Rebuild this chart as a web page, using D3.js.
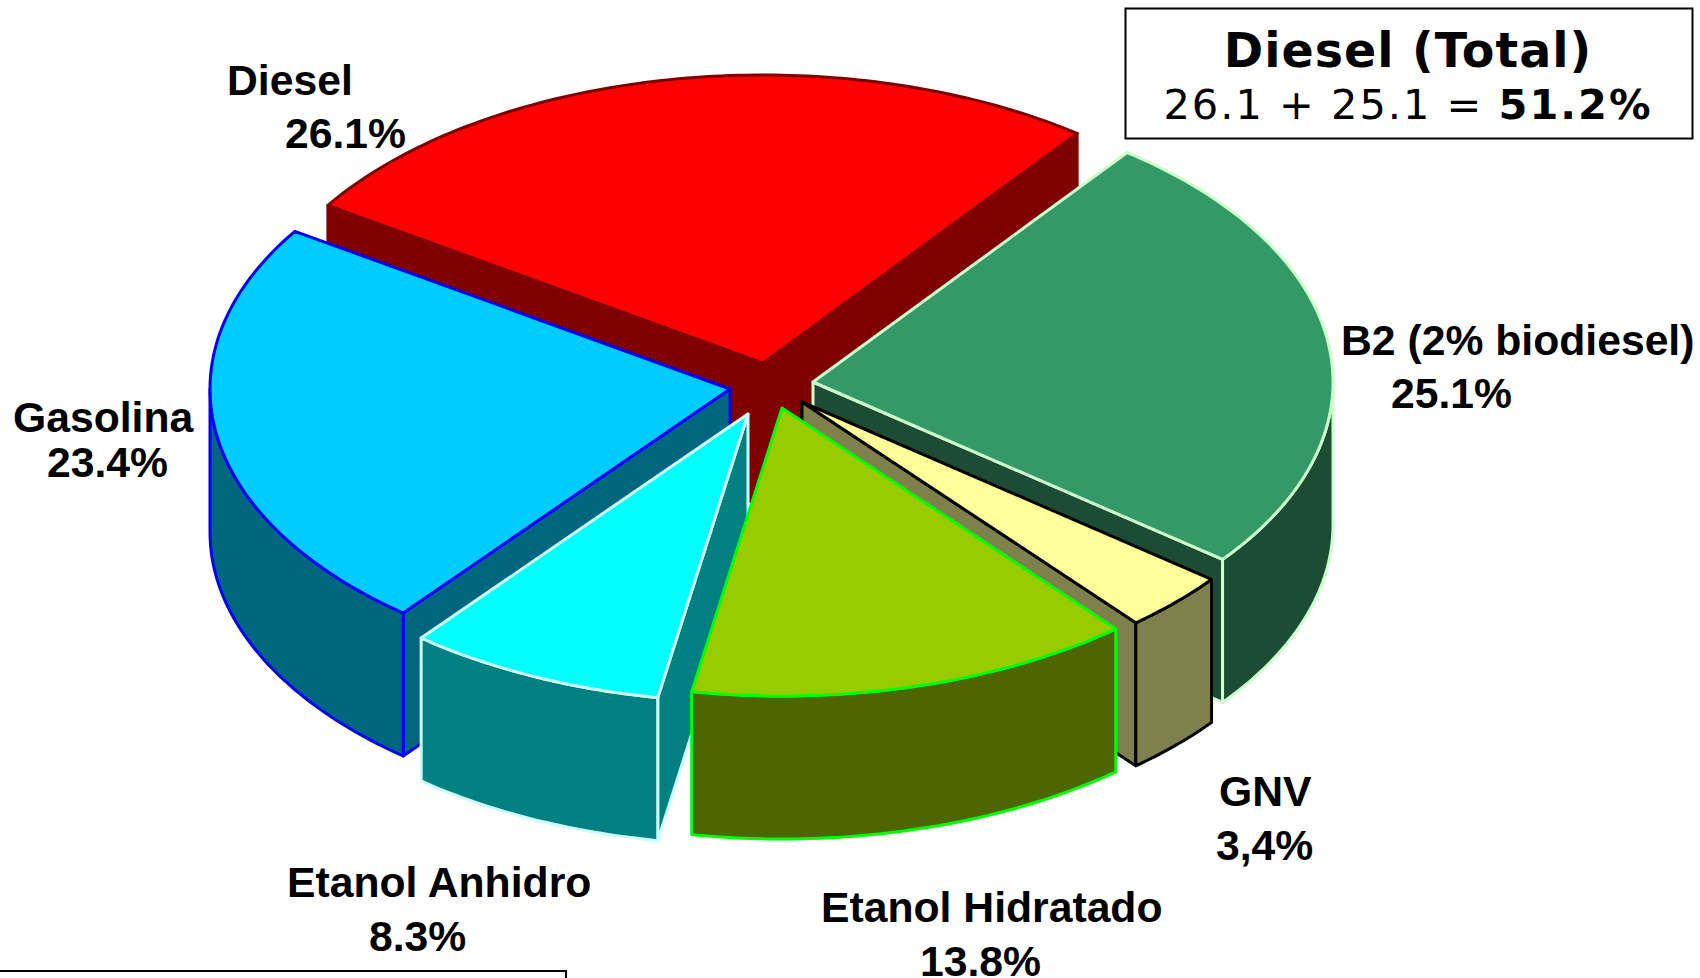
<!DOCTYPE html>
<html>
<head>
<meta charset="utf-8">
<script src="https://cdn.jsdelivr.net/npm/d3@7"></script>
<style>
  html, body { margin: 0; padding: 0; background: #fff; overflow: hidden; }
</style>
</head>
<body>
<script>
// Chart values
const fuels = ['Diesel', 'B2 (2% biodiesel)', 'GNV', 'Etanol Hidratado', 'Etanol Anhidro', 'Gasolina'];
const shares = [26.1, 25.1, 3.4, 13.8, 8.3, 23.4];
const shareLabels = ['26.1%', '25.1%', '3,4%', '13.8%', '8.3%', '23.4%'];

// Slice colours
const topColors = ['#ff0000', '#339966', '#ffff99', '#99cc00', '#00ffff', '#00ccff'];
const wallColors = ['#800000', '#1c4c33', '#80804d', '#4d6600', '#008080', '#006680'];
const edgeColors = ['#800000', '#ccffcc', '#000000', '#00ff00', '#ccffff', '#0000ff'];

// Apex of each pulled out slice, and the order to paint them back to front
const apexX = [763, 813, 802, 782, 748, 730];
const apexY = [363, 382, 402, 408, 414, 389];
const paintOrder = [0, 1, 2, 5, 4, 3];

// The drawn wedges are not quite proportional to the printed numbers:
// degrees to add to the end angle of each slice
const endNudge = [0.1, 0.7, 0.5, 0.8, -0.1, 0];

let width = 1700,
    height = 978;

let rx = 520,
    ry = 288,
    depth = 143;

let svg = d3.select('body')
  .append('svg')
  .attr('width', width)
  .attr('height', height)
  .style('display', 'block');

let slices = d3.pie()
  .sort(null)
  .value(d => d)
  .startAngle(-56.8 * Math.PI / 180)
  .endAngle((360 - 56.8) * Math.PI / 180)(shares);

slices.forEach((s, i) => {
  s.endAngle += endNudge[i] * Math.PI / 180;
  if (i > 0) s.startAngle = slices[i - 1].endAngle;
});

// Angle is clockwise from twelve o'clock, like d3.pie
function rim(i, angle, drop) {
  return [
    apexX[i] + rx * Math.sin(angle),
    apexY[i] - ry * Math.cos(angle) + drop
  ];
}

function arcPoints(i, a0, a1, drop) {
  let n = Math.max(2, Math.ceil((a1 - a0) * 60));
  return d3.range(n + 1).map(k => rim(i, a0 + (a1 - a0) * k / n, drop));
}

let line = d3.line();

// Side cut from the centre out to the rim
function cutWall(i, angle) {
  let p = rim(i, angle, 0);
  return line([
    [apexX[i], apexY[i]], p,
    [p[0], p[1] + depth],
    [apexX[i], apexY[i] + depth]
  ]) + 'Z';
}

paintOrder.forEach(i => {
  let s = slices[i];
  let g = svg.append('g').attr('class', 'slice');

  function wall(path) {
    g.append('path')
      .attr('d', path)
      .attr('fill', wallColors[i])
      .attr('stroke', edgeColors[i])
      .attr('stroke-width', 3)
      .attr('stroke-linejoin', 'round');
  }

  // Only the cuts that face the viewer
  if (Math.sin(s.startAngle) < 0) wall(cutWall(i, s.startAngle));
  if (Math.sin(s.endAngle) > 0) wall(cutWall(i, s.endAngle));

  // Rim wall, front half of the ellipse only
  let a0 = Math.max(s.startAngle, Math.PI / 2),
      a1 = Math.min(s.endAngle, 3 * Math.PI / 2);
  if (a1 > a0) {
    let upper = arcPoints(i, a0, a1, 0);
    let lower = arcPoints(i, a0, a1, depth).reverse();
    wall(line(upper.concat(lower)) + 'Z');
  }

  // Top face
  g.append('path')
    .attr('d', line([[apexX[i], apexY[i]]].concat(arcPoints(i, s.startAngle, s.endAngle, 0))) + 'Z')
    .attr('fill', topColors[i])
    .attr('stroke', edgeColors[i])
    .attr('stroke-width', 3)
    .attr('stroke-linejoin', 'round');
});

// Labels
const labelFont = '"Liberation Sans", Arial, sans-serif';

function label(txt, x, y) {
  svg.append('text')
    .attr('x', x)
    .attr('y', y)
    .style('font-family', labelFont)
    .style('font-size', '42.7px')
    .style('font-weight', 'bold')
    .text(txt);
}

label(fuels[0], 227, 95);
label(shareLabels[0], 285, 148);
label(fuels[1], 1341, 355);
label(shareLabels[1], 1391, 408);
label(fuels[2], 1219, 806);
label(shareLabels[2], 1216, 860);
label(fuels[3], 821, 922);
label(shareLabels[3], 920, 976);
label(fuels[4], 287, 897);
label(shareLabels[4], 369, 951);
label(fuels[5], 13, 432);
label(shareLabels[5], 47, 477);

// Total box
svg.append('rect')
  .attr('x', 1125.5)
  .attr('y', 8.5)
  .attr('width', 567)
  .attr('height', 130)
  .attr('fill', '#fff')
  .attr('stroke', '#000')
  .attr('stroke-width', 2);

svg.append('text')
  .attr('x', 1408)
  .attr('y', 67)
  .attr('text-anchor', 'middle')
  .style('font-family', '"DejaVu Sans", Verdana, sans-serif')
  .style('font-size', '47.5px')
  .style('font-weight', 'bold')
  .style('letter-spacing', '1px')
  .text('Diesel (Total)');

let sum = svg.append('text')
  .attr('x', 1408)
  .attr('y', 119)
  .attr('text-anchor', 'middle')
  .style('font-family', '"DejaVu Sans", Verdana, sans-serif')
  .style('font-size', '41.5px')
  .style('letter-spacing', '2px');
sum.append('tspan').text('26.1 + 25.1 = ');
sum.append('tspan').style('font-weight', 'bold').text('51.2%');

// Box cut off by the bottom of the page
svg.append('rect')
  .attr('x', -3)
  .attr('y', 971)
  .attr('width', 569)
  .attr('height', 30)
  .attr('fill', '#fff')
  .attr('stroke', '#000')
  .attr('stroke-width', 2);
</script>
</body>
</html>
